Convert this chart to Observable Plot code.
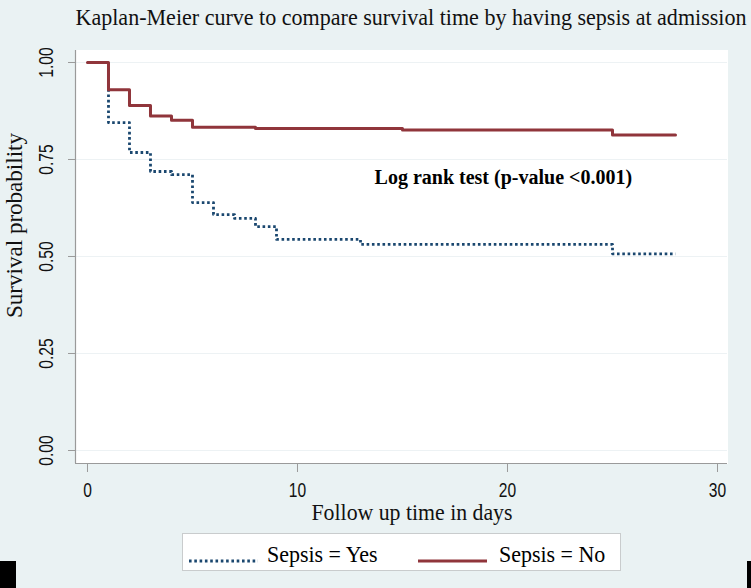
<!DOCTYPE html>
<html>
<head>
<meta charset="utf-8">
<script src="https://cdn.jsdelivr.net/npm/d3@7"></script>
<script src="https://cdn.jsdelivr.net/npm/@observablehq/plot@0.6"></script>
<style>
  html, body { margin: 0; padding: 0; background: #eaf2f3; }
  #wrap { position: relative; width: 751px; height: 588px; background: #eaf2f3; overflow: hidden; }
  .chart { position: absolute; left: 0; top: 0; }
  .legend { position: absolute; left: 182px; top: 533px; width: 437px; height: 36px;
            background: #fff; border: 1px solid #c9cccd; font-family: "Liberation Serif", "Times New Roman", serif;
            font-size: 24px; color: #000; }
  .legend .lab { position: absolute; top: 7px; white-space: nowrap; line-height: 26px;
                 transform: scaleX(0.915); transform-origin: 0 50%; }
  .legend .samp { position: absolute; top: 24px; }
  .blk { position: absolute; background: #000; }
</style>
</head>
<body>
<div id="wrap"></div>
<script>
// ---- data ----
const timesYes = [0, 1, 2, 3, 4, 5, 6, 7, 8, 9, 13, 25, 28];
const survYes  = [1.000, 0.845, 0.768, 0.719, 0.711, 0.639, 0.608, 0.598, 0.577, 0.544, 0.531, 0.507, 0.507];
const timesNo  = [0, 1, 2, 3, 4, 5, 8, 15, 25, 28];
const survNo   = [1.000, 0.930, 0.889, 0.862, 0.851, 0.833, 0.830, 0.826, 0.813, 0.813];
const seriesNames  = ["Sepsis = Yes", "Sepsis = No"];
const seriesColors = ["#1a476f", "#90353b"];
const xTicks = [0, 10, 20, 30];
const yTicks = [0, 0.25, 0.5, 0.75, 1];
const titleText = "Kaplan-Meier curve to compare survival time by having sepsis at admission";
const xLabel = "Follow up time in days";
const yLabel = "Survival probability";
const noteText = "Log rank test (p-value <0.001)";
const notePos = {t: 13.67, s: 0.686};

const yesData = timesYes.map((t, i) => ({t, s: survYes[i]}));
const noData  = timesNo.map((t, i) => ({t, s: survNo[i]}));

const xDomain = [-0.571, 30.476];
const yDomain = [-0.0335, 1.0309];
const serif = "Liberation Serif, Times New Roman, serif";
const sans = "Liberation Sans, Arial, sans-serif";
const axisGray = "#9a9a9a";
const fmtY = d3.format(".2f");

const chart = Plot.plot({
  width: 751,
  height: 588,
  marginLeft: 75,
  marginRight: 24,
  marginTop: 50,
  marginBottom: 125,
  className: "chart",
  style: {background: "#eaf2f3", overflow: "visible"},
  x: {domain: xDomain, axis: null},
  y: {domain: yDomain, axis: null},
  marks: [
    Plot.frame({fill: "white", stroke: "white"}),
    Plot.ruleY(yTicks, {stroke: "#edf2f4", strokeWidth: 1}),
    Plot.ruleX([xDomain[0]], {stroke: axisGray, strokeWidth: 1.2}),
    Plot.ruleY([yDomain[0]], {stroke: axisGray, strokeWidth: 1.2}),
    Plot.axisY(yTicks, {anchor: "left", tickSize: 7, stroke: axisGray, tickFormat: () => "", label: null}),
    Plot.axisX(xTicks, {anchor: "bottom", tickSize: 9, stroke: axisGray, tickFormat: () => "", label: null}),
    Plot.text(yTicks, {y: d => d, frameAnchor: "left", dx: -29, rotate: -90, textAnchor: "middle", lineAnchor: "middle",
      text: d => fmtY(d), fontSize: 20, fontFamily: sans, fill: "#111"}),
    Plot.text(xTicks, {x: d => d, frameAnchor: "bottom", dy: 19, textAnchor: "middle", lineAnchor: "top",
      text: d => String(d), fontSize: 20, fontFamily: sans, fill: "#111"}),
    Plot.line(yesData, {x: "t", y: "s", curve: "step-after", stroke: seriesColors[0], strokeWidth: 2.8,
      strokeDasharray: "2.6,2.7", strokeLinecap: "butt"}),
    Plot.line(noData, {x: "t", y: "s", curve: "step-after", stroke: seriesColors[1], strokeWidth: 3}),
    Plot.text([noteText], {x: () => notePos.t, y: () => notePos.s, text: d => d, textAnchor: "start",
      lineAnchor: "bottom", fontSize: 20, fontWeight: "bold", fontFamily: serif, fill: "#000"}),
    Plot.text([titleText], {frameAnchor: "top-left", dy: -26, textAnchor: "start", lineAnchor: "bottom",
      text: d => d, fontSize: 24, fontFamily: serif, fill: "#111"}),
    Plot.text([xLabel], {frameAnchor: "bottom", dx: 10.5, dy: 56, textAnchor: "middle", lineAnchor: "bottom",
      text: d => d, fontSize: 24, fontFamily: serif, fill: "#111"}),
    Plot.text([yLabel], {frameAnchor: "top-left", dx: -61, dy: 175, rotate: -90, textAnchor: "middle", lineAnchor: "middle",
      text: d => d, fontSize: 23, fontFamily: serif, fill: "#111"})
  ]
});

const allText = d3.select(chart).selectAll("text");
const byContent = set => allText.filter(function() { return set.includes(this.textContent); });

// condense the sans-serif tick labels along their reading direction (as in the reference)
const squeeze = 0.78;
byContent([...xTicks.map(String), ...yTicks.map(fmtY)]).each(function() {
  const el = d3.select(this);
  const tr = el.attr("transform") || "";
  el.attr("transform", `${tr} scale(${squeeze},1)`);
});
// condensed serif labels: fit the text lengths measured on the reference
[[titleText, 671], [xLabel, 201], [yLabel, 185]].forEach(([t, len]) => {
  byContent([t]).attr("textLength", len).attr("lengthAdjust", "spacingAndGlyphs");
});

const wrap = document.getElementById("wrap");
wrap.appendChild(chart);

// legend (HTML, in the area below the plot)
const legend = document.createElement("div");
legend.className = "legend";
const legendLayout = [{sx: 6, lx: 84}, {sx: 235, lx: 316}];
seriesNames.forEach((name, i) => {
  const s = d3.create("svg").attr("class", "samp").attr("width", 70).attr("height", 6)
    .style("left", legendLayout[i].sx + "px");
  s.append("line").attr("x1", 0).attr("x2", 69).attr("y1", 3).attr("y2", 3)
    .attr("stroke", seriesColors[i]).attr("stroke-width", i === 0 ? 2.8 : 3)
    .attr("stroke-dasharray", i === 0 ? "2.6,2.7" : null);
  legend.appendChild(s.node());
  const lab = document.createElement("div");
  lab.className = "lab";
  lab.style.left = legendLayout[i].lx + "px";
  lab.textContent = name;
  legend.appendChild(lab);
});
wrap.appendChild(legend);

// corner artifacts present in the reference image
[{l: 0, t: 561, w: 16, h: 27}, {l: 747, t: 561, w: 4, h: 27}].forEach(b => {
  const d = document.createElement("div");
  d.className = "blk";
  Object.assign(d.style, {left: b.l + "px", top: b.t + "px", width: b.w + "px", height: b.h + "px"});
  wrap.appendChild(d);
});
</script>
</body>
</html>
